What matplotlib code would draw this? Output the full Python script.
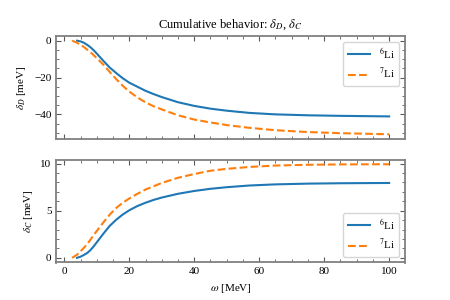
import matplotlib
matplotlib.use("Agg")
import matplotlib.pyplot as plt
from matplotlib.ticker import AutoMinorLocator

plt.rcParams["font.family"] = ["Liberation Serif", "DejaVu Serif"]
plt.rcParams["mathtext.fontset"] = "stix"

# omega grid [MeV] for each isotope (curves start at different thresholds)
omega_6li = [3.9, 5, 6, 7, 8, 9, 10, 12, 14, 16, 18, 20, 22.5, 25, 27.5, 30,
             35, 40, 45, 50, 57, 65, 75, 85, 100]
omega_7li = [2.4, 4, 5, 6, 7, 8, 9, 10, 12, 14, 16, 18, 20, 22.5, 25, 27.5, 30,
             35, 40, 45, 50, 57, 65, 75, 85, 100]

# cumulative delta_D [meV]
dD_6li = [0, -0.4, -1.1, -2.2, -3.5, -5.1, -7.0, -10.9, -14.6, -17.6, -20.4,
          -22.8, -25.0, -27.2, -29.0, -30.6, -33.4, -35.4, -36.9, -38.0, -39.2,
          -40.0, -40.5, -40.8, -41.1]
dD_7li = [0, -1.2, -2.2, -3.4, -4.8, -6.2, -7.8, -9.5, -13.0, -17.0, -20.9,
          -24.5, -27.6, -30.8, -33.5, -35.6, -37.3, -40.5, -42.8, -44.4, -45.8,
          -47.3, -48.6, -49.6, -50.2, -50.8]

# cumulative delta_C [meV]
dC_6li = [0, 0.12, 0.3, 0.5, 0.8, 1.2, 1.65, 2.55, 3.4, 4.05, 4.6, 5.05, 5.5,
          5.85, 6.15, 6.4, 6.8, 7.1, 7.33, 7.5, 7.68, 7.8, 7.88, 7.92, 7.95]
dC_7li = [0, 0.35, 0.7, 1.05, 1.45, 1.9, 2.4, 2.85, 3.75, 4.6, 5.3, 5.85, 6.3,
          6.8, 7.25, 7.6, 7.95, 8.5, 8.9, 9.25, 9.45, 9.65, 9.8, 9.88, 9.92, 9.94]

labels = [r"$^6$Li", r"$^7$Li"]

fig, (ax1, ax2) = plt.subplots(2, 1, figsize=(4.5, 3), dpi=100, sharex=True)
fig.subplots_adjust(left=0.125, right=0.9, top=0.88, bottom=0.125, hspace=0.2)

ax1.plot(omega_6li, dD_6li, color="tab:blue", lw=1.5, label=labels[0])
ax1.plot(omega_7li, dD_7li, color="tab:orange", lw=1.5, ls="--", label=labels[1])
ax2.plot(omega_6li, dC_6li, color="tab:blue", lw=1.5, label=labels[0])
ax2.plot(omega_7li, dC_7li, color="tab:orange", lw=1.5, ls="--", label=labels[1])

ax1.set_title(r"Cumulative behavior: $\delta_D$, $\delta_C$", fontsize=9)
ax1.set_ylabel(r"$\delta_D$ [meV]", fontsize=8)
ax2.set_ylabel(r"$\delta_C$ [meV]", fontsize=8)
ax2.set_xlabel(r"$\omega$ [MeV]", fontsize=8)

ax1.set_yticks([0, -20, -40])
ax2.set_yticks([0, 5, 10])

for ax, loc in ((ax1, "upper right"), (ax2, "lower right")):
    ax.xaxis.set_minor_locator(AutoMinorLocator())
    ax.yaxis.set_minor_locator(AutoMinorLocator())
    ax.tick_params(which="both", direction="in", top=True, right=True,
                   labelsize=8, color="0.35")
    ax.tick_params(which="major", length=3.5)
    ax.tick_params(which="minor", length=2)
    for sp in ax.spines.values():
        sp.set_color("0.5")
        sp.set_linewidth(1.3)
    ax.legend(loc=loc, fontsize=8)

fig.savefig("out.png", dpi=100)
